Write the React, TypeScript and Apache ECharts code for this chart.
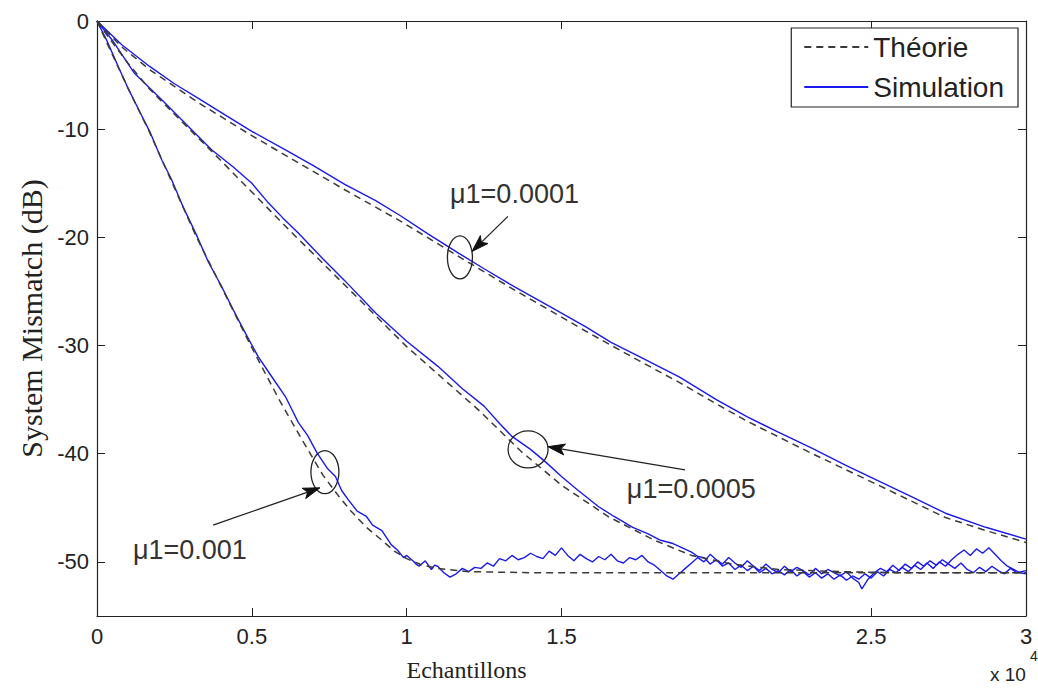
import React, { useEffect, useRef } from "react";
import * as echarts from "echarts";

// Axis ticks (x in units of 10^4 samples)
const xTicks = [0, 0.5, 1, 1.5, 2.5, 3];
const yTicks = [-50, -40, -30, -20, -10, 0];

// μ1 = 0.001 (fast)
const theoryFast: [number, number][] = [
  [0, 0], [0.03, -1.9], [0.1, -6.2], [0.17, -10.3], [0.32, -19.9], [0.5, -30.2], [0.59, -35.1],
  [0.66, -38.6], [0.73, -42], [0.78, -43.9], [0.82, -45.3], [0.87, -46.8], [0.92, -48], [0.96, -49],
  [1.0, -49.7], [1.05, -50.3], [1.1, -50.6], [1.2, -50.9], [1.4, -51], [3, -51],
];
const simFast: [number, number][] = [
  [0, 0], [0.03, -1.7], [0.07, -4.3], [0.1, -6.2], [0.14, -8.5], [0.17, -10.2], [0.21, -12.9], [0.24, -14.6],
  [0.28, -17.3], [0.32, -19.7], [0.36, -22.3], [0.4, -24.4], [0.44, -26.7], [0.48, -28.9], [0.52, -31],
  [0.56, -32.7], [0.61, -34.8], [0.65, -37.1], [0.68, -38.3], [0.71, -39.9], [0.745, -41.4], [0.77, -42.1],
  [0.79, -43.4], [0.81, -44.2], [0.84, -45.3], [0.87, -45.8], [0.89, -46.6], [0.92, -47.1], [0.95, -48.4],
  [0.97, -48.9], [0.99, -49.6], [1.0, -49.4],
  [1.02, -49.9], [1.03, -50.2], [1.04, -50.4], [1.06, -49.9], [1.08, -50.7], [1.09, -50.3], [1.1, -50.4], [1.12, -51.0], [1.14, -51.4],
  [1.16, -51.1], [1.18, -50.6], [1.2, -50.9], [1.22, -50.5], [1.24, -50.6], [1.26, -50.1], [1.28, -50.4],
  [1.3, -49.7], [1.32, -49.9], [1.34, -49.4], [1.36, -49.8], [1.38, -49.6], [1.4, -49.2], [1.42, -49.5],
  [1.44, -49.7], [1.46, -49.0], [1.48, -49.4], [1.5, -48.7], [1.52, -49.4], [1.54, -49.9], [1.56, -49.3],
  [1.58, -49.7], [1.6, -50.0], [1.62, -49.5], [1.64, -49.8], [1.66, -49.3], [1.68, -49.9], [1.7, -50.1],
  [1.72, -49.6], [1.74, -49.8], [1.76, -49.4], [1.78, -50.0], [1.8, -50.3], [1.82, -50.8], [1.84, -51.3],
  [1.86, -51.6], [1.88, -51.1], [1.9, -50.6], [1.92, -50.1], [1.94, -49.6], [1.96, -50.0], [1.98, -49.3],
  [2.0, -49.8], [2.02, -50.2], [2.04, -49.6], [2.06, -50.1], [2.08, -50.5], [2.1, -49.9], [2.12, -50.4],
  [2.14, -50.8], [2.16, -50.2], [2.18, -50.7], [2.2, -51.0], [2.22, -50.4], [2.24, -50.9], [2.26, -50.5],
  [2.28, -50.8], [2.3, -51.2], [2.32, -50.6], [2.34, -51.1], [2.36, -50.7], [2.38, -51.0], [2.4, -51.3],
  [2.42, -50.9], [2.44, -51.5], [2.46, -51.9], [2.47, -52.5], [2.49, -51.6], [2.51, -51.0], [2.53, -50.6],
  [2.55, -50.9], [2.57, -50.3], [2.59, -50.8], [2.61, -50.2], [2.63, -50.6], [2.65, -50.0], [2.67, -50.4],
  [2.69, -49.9], [2.71, -50.3], [2.73, -49.8], [2.75, -50.2], [2.77, -50.6], [2.79, -50.1], [2.81, -50.7],
  [2.83, -51.0], [2.85, -50.5], [2.87, -50.9], [2.89, -50.4], [2.91, -50.8], [2.93, -51.1], [2.95, -50.6],
  [2.97, -51.0], [3.0, -50.8],
];

// μ1 = 0.0005 (medium)
const theoryMid: [number, number][] = [
  [0, 0], [0.05, -2], [0.1, -3.9], [0.17, -6.3], [0.26, -8.9], [0.4, -12.9], [0.62, -19.3], [0.8, -24.4],
  [1.0, -30.1], [1.23, -35.9], [1.37, -39.8], [1.5, -42.9], [1.65, -45.8], [1.8, -48], [1.92, -49.4],
  [2.05, -50.2], [2.2, -50.7], [2.4, -50.9], [2.6, -51], [3, -51],
];
const simMid: [number, number][] = [
  [0, 0], [0.05, -1.8], [0.12, -4.8], [0.21, -7.3], [0.3, -9.9], [0.37, -11.9], [0.44, -13.5], [0.5, -15],
  [0.55, -16.7], [0.6, -18.2], [0.65, -19.6], [0.69, -20.8], [0.73, -22], [0.8, -24], [0.9, -27], [1.0, -29.6],
  [1.1, -31.9], [1.18, -34], [1.25, -35.6], [1.3, -37.2], [1.34, -38.4], [1.4, -39.6], [1.45, -40.8],
  [1.5, -42.1], [1.55, -43.3], [1.62, -44.9], [1.67, -45.8], [1.73, -46.8], [1.78, -47.4], [1.82, -48],
  [1.86, -48.3], [1.89, -48.7], [1.92, -49.1], [1.94, -49.5],
  [1.96, -49.6], [1.98, -50.2], [2.0, -49.8], [2.02, -50.4], [2.04, -50.1], [2.06, -50.7], [2.08, -50.3],
  [2.1, -50.8], [2.12, -50.4], [2.14, -51.0], [2.16, -50.6], [2.18, -51.1], [2.2, -50.8], [2.22, -51.2],
  [2.24, -50.7], [2.26, -51.3], [2.28, -50.9], [2.3, -51.4], [2.32, -51.0], [2.34, -51.5], [2.36, -51.1],
  [2.38, -51.6], [2.4, -51.2], [2.42, -51.7], [2.44, -51.3], [2.46, -51.6], [2.48, -51.1], [2.5, -51.5],
  [2.52, -50.9], [2.54, -51.3], [2.56, -50.7], [2.58, -51.0], [2.6, -50.5], [2.62, -50.9], [2.64, -50.3],
  [2.66, -50.7], [2.68, -50.1], [2.7, -50.6], [2.72, -50.0], [2.74, -50.4], [2.76, -49.8], [2.78, -49.3],
  [2.8, -48.9], [2.82, -49.4], [2.84, -48.8], [2.86, -49.2], [2.88, -48.7], [2.9, -49.3], [2.92, -49.9],
  [2.94, -50.4], [2.96, -50.7], [2.98, -51.0], [3.0, -51.1],
];

// μ1 = 0.0001 (slow)
const theorySlow: [number, number][] = [
  [0, 0], [0.08, -2.4], [0.17, -4.5], [0.33, -7.6], [0.5, -10.6], [0.62, -12.6], [0.8, -15.6], [0.98, -18.5],
  [1.17, -21.8], [1.35, -24.9], [1.58, -28.7], [1.75, -31.4], [1.88, -33.4], [2.0, -35.4], [2.1, -37],
  [2.31, -40], [2.53, -43], [2.74, -45.9], [2.87, -47.1], [3.0, -48.2],
];
const simSlow: [number, number][] = [
  [0, 0], [0.08, -2.2], [0.17, -4.2], [0.25, -5.8], [0.33, -7.2], [0.42, -8.8], [0.5, -10.2], [0.62, -12.1],
  [0.7, -13.4], [0.8, -15.1], [0.9, -16.6], [0.98, -18], [1.07, -19.7], [1.17, -21.5], [1.25, -22.9],
  [1.35, -24.6], [1.45, -26.2], [1.58, -28.3], [1.66, -29.7], [1.75, -31], [1.88, -32.9], [2.0, -35],
  [2.1, -36.6], [2.2, -38], [2.31, -39.5], [2.42, -41.1], [2.53, -42.6], [2.64, -44.1], [2.74, -45.5],
  [2.87, -46.8], [3.0, -47.9],
];

// Annotations in data coordinates
const ellipses = [
  { at: [1.172, -21.85], rx: 12.5, ry: 21.5 },
  { at: [1.392, -39.6], rx: 20, ry: 18.5 },
  { at: [0.736, -41.7], rx: 14, ry: 21.5 },
];
const arrows = [
  { from: [1.327, -18.06], to: [1.211, -21.3] },
  { from: [1.899, -41.5], to: [1.456, -39.35] },
  { from: [0.375, -46.6], to: [0.72, -43.15] },
];
const labels = [
  { text: "μ1=0.0001", at: [1.14, -16.0] },
  { text: "μ1=0.0005", at: [1.711, -43.3] },
  { text: "μ1=0.001", at: [0.116, -48.9] },
];

const SANS = "'Liberation Sans', Arial, sans-serif";
const SERIF = "'Liberation Serif', 'Times New Roman', serif";
const BLUE = "#1a1aee";
const DASH = "#3a3a3a";

export default function App() {
  const ref = useRef<HTMLDivElement>(null);
  useEffect(() => {
    document.body.style.margin = "0";
    const chart = echarts.init(ref.current!, null, { renderer: "svg" });
    const theory = (data: [number, number][]) => ({
      type: "line", name: "Théorie", data, symbol: "none", showSymbol: false, silent: true, z: 3,
      itemStyle: { color: DASH },
      lineStyle: { color: DASH, width: 1.5, type: [7, 5] },
    });
    const sim = (data: [number, number][]) => ({
      type: "line", name: "Simulation", data, symbol: "none", showSymbol: false, silent: true, z: 2,
      itemStyle: { color: BLUE },
      lineStyle: { color: BLUE, width: 1.4 },
    });
    const axisCommon = {
      type: "value",
      axisLine: { show: true, onZero: false, lineStyle: { color: "#222", width: 1.2 } },
      splitLine: { show: false },
    };
    const option: any = {
      animation: false,
      backgroundColor: "#fff",
      grid: { left: 97, right: 12, top: 21, bottom: 73 },
      legend: {
        data: ["Théorie", "Simulation"],
        orient: "vertical",
        right: 20,
        top: 28,
        backgroundColor: "#fff",
        borderColor: "#222",
        borderWidth: 1.2,
        borderRadius: 0,
        padding: [5, 14, 6, 12],
        itemGap: 12,
        itemWidth: 64,
        itemHeight: 14,
        itemStyle: { opacity: 0 },
        selectedMode: false,
        textStyle: { fontFamily: SANS, fontSize: 28, color: "#222" },
      },
      xAxis: [
        {
          ...axisCommon, min: 0, max: 3, position: "bottom",
          name: "Echantillons", nameLocation: "middle", nameGap: 42,
          nameTextStyle: { fontFamily: SERIF, fontSize: 24, color: "#222", padding: [0, 190, 0, 0] },
          axisTick: { show: true, inside: true, length: 8, customValues: xTicks, lineStyle: { color: "#222" } },
          axisLabel: { customValues: xTicks, margin: 9, fontFamily: SANS, fontSize: 22, color: "#222", formatter: (v: number) => String(v) },
        },
        {
          ...axisCommon, min: 0, max: 3, position: "top",
          axisTick: { show: true, inside: true, length: 8, customValues: xTicks, lineStyle: { color: "#222" } },
          axisLabel: { show: false, customValues: xTicks },
        },
      ],
      yAxis: [
        {
          ...axisCommon, min: -55, max: 0, position: "left",
          name: "System Mismatch (dB)", nameLocation: "middle", nameGap: 49, nameRotate: 90,
          nameTextStyle: { fontFamily: SERIF, fontSize: 30, color: "#222" },
          axisTick: { show: true, inside: true, length: 8, customValues: yTicks, lineStyle: { color: "#222" } },
          axisLabel: { customValues: yTicks, margin: 8, fontFamily: SANS, fontSize: 22, color: "#222", formatter: (v: number) => String(v) },
        },
        {
          ...axisCommon, min: -55, max: 0, position: "right",
          axisTick: { show: true, inside: true, length: 8, customValues: yTicks, lineStyle: { color: "#222" } },
          axisLabel: { show: false, customValues: yTicks },
        },
      ],
      series: [
        sim(simSlow), sim(simMid), sim(simFast),
        theory(theorySlow), theory(theoryMid), theory(theoryFast),
      ],
    };
    chart.setOption(option);

    const px = (p: number[]) => chart.convertToPixel({ xAxisIndex: 0, yAxisIndex: 0 }, p) as number[];
    const graphics: any[] = [];
    ellipses.forEach((e) => {
      const [cx, cy] = px(e.at);
      graphics.push({
        type: "ellipse", silent: true, z: 10,
        shape: { cx, cy, rx: e.rx, ry: e.ry },
        style: { fill: "none", stroke: "#222", lineWidth: 1.3 },
      });
    });
    arrows.forEach((a) => {
      const [fx, fy] = px(a.from);
      const [tx, ty] = px(a.to);
      const dx = tx - fx, dy = ty - fy;
      const len = Math.hypot(dx, dy);
      const ux = dx / len, uy = dy / len;
      const L = 17, W = 5.5;
      const bx = tx - ux * L, by = ty - uy * L;
      graphics.push({
        type: "line", silent: true, z: 10,
        shape: { x1: fx, y1: fy, x2: bx + ux * 4, y2: by + uy * 4 },
        style: { stroke: "#222", lineWidth: 1.3 },
      });
      graphics.push({
        type: "polygon", silent: true, z: 10,
        shape: {
          points: [
            [tx, ty],
            [bx - uy * W, by + ux * W],
            [bx + ux * 4, by + uy * 4],
            [bx + uy * W, by - ux * W],
          ],
        },
        style: { fill: "#111", stroke: "#111", lineWidth: 1 },
      });
    });
    labels.forEach((l) => {
      const [x, y] = px(l.at);
      graphics.push({
        type: "text", silent: true, z: 10, x, y,
        style: { text: l.text, fontFamily: SANS, fontSize: 27, fill: "#333", align: "left", verticalAlign: "middle" },
      });
    });
    graphics.push({
      type: "text", silent: true, left: 990, top: 665,
      style: { text: "x 10", fontFamily: SANS, fontSize: 19, fill: "#222" },
    });
    graphics.push({
      type: "text", silent: true, left: 1030, top: 649,
      style: { text: "4", fontFamily: SANS, fontSize: 14, fill: "#222" },
    });
    chart.setOption({ graphic: graphics });

    return () => chart.dispose();
  }, []);
  return <div ref={ref} style={{ width: 1038, height: 689 }} />;
}
